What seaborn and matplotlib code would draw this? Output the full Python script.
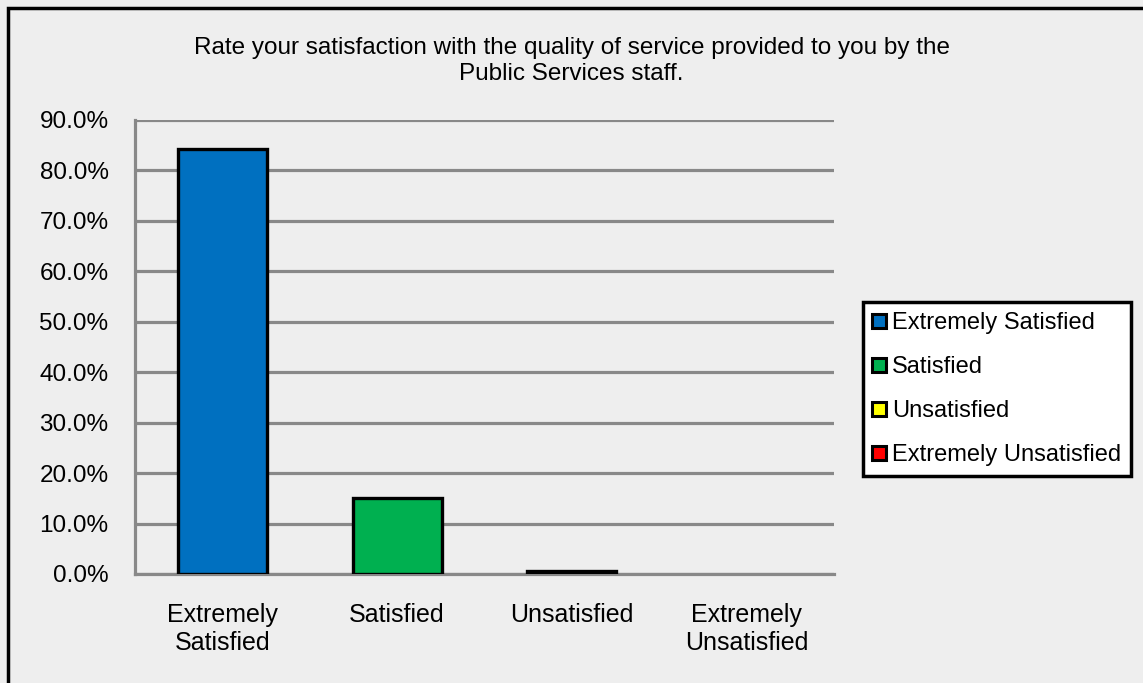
import numpy as np
import pandas as pd
import matplotlib
matplotlib.use("Agg")
import matplotlib.pyplot as plt
from matplotlib.lines import Line2D
from matplotlib.patches import Rectangle
from matplotlib.ticker import FuncFormatter, MultipleLocator
import seaborn as sns

# data
categories = ["Extremely Satisfied", "Satisfied", "Unsatisfied", "Extremely Unsatisfied"]
tick_labels = ["Extremely\nSatisfied", "Satisfied", "Unsatisfied", "Extremely\nUnsatisfied"]
percent = [84.3, 15.0, 0.6, 0.0]
colors = ["#0070C0", "#00B050", "#FFFF00", "#FF0000"]
title = "Rate your satisfaction with the quality of service provided to you by the\nPublic Services staff."

sns.set_style("white")
plt.rcParams["font.family"] = ["Liberation Sans", "DejaVu Sans"]
plt.rcParams["text.color"] = "black"
plt.rcParams["xtick.color"] = "black"
plt.rcParams["ytick.color"] = "black"

bg = "#EEEEEE"
grid_col = "#888888"

df = pd.DataFrame({"category": categories, "percent": percent})

fig = plt.figure(figsize=(11.43, 6.83), dpi=100, facecolor=bg)
ax = fig.add_axes([135 / 1143, 1 - 574 / 683, 699 / 1143, 454 / 683])
ax.set_facecolor(bg)

sns.barplot(data=df, x="category", y="percent", hue="category", order=categories,
            hue_order=categories, palette=colors, saturation=1, width=0.51,
            edgecolor="black", linewidth=2.4, legend=False, ax=ax, zorder=3)

# an empty category gets no visible mark
for bar in ax.patches:
    if bar.get_height() == 0:
        bar.set_linewidth(0)

ax.set_xlim(-0.5, 3.5)
ax.set_ylim(0, 90)
ax.yaxis.set_major_locator(MultipleLocator(10))
ax.yaxis.set_major_formatter(FuncFormatter(lambda v, p: f"{v:.1f}%"))
ax.grid(axis="y", color=grid_col, linewidth=2.3, zorder=0)
ax.set_axisbelow(True)

for s in ["top", "right"]:
    ax.spines[s].set_visible(False)
for s in ["left", "bottom"]:
    ax.spines[s].set_color(grid_col)
    ax.spines[s].set_linewidth(2.3)

ax.set_xticks(range(len(categories)))
ax.set_xticklabels(tick_labels, fontsize=18, linespacing=1.2)
ax.set_xticks(np.arange(-0.5, 4, 1), minor=True)
ax.tick_params(axis="x", which="major", length=0, pad=21)
ax.tick_params(axis="x", which="minor", length=5, width=2.3, color=grid_col)
ax.tick_params(axis="y", length=6, width=2.3, color=grid_col, labelsize=17.5, pad=13)
ax.set_xlabel("")
ax.set_ylabel("")

fig.text(0.5, 1 - 61 / 683, title, ha="center", va="center", fontsize=17.5, linespacing=1.2)

handles = [Line2D([0], [0], marker="s", linestyle="none", markersize=10,
                  markerfacecolor=c, markeredgecolor="black", markeredgewidth=2.2)
           for c in colors]
leg = fig.legend(handles, categories, loc="upper left",
                 bbox_to_anchor=(863 / 1143, 1 - 302 / 683),
                 fontsize=17, frameon=True, fancybox=False, framealpha=1,
                 facecolor="white", edgecolor="black", handlelength=0.55,
                 handletextpad=0.25, labelspacing=0.93, borderpad=0.42,
                 borderaxespad=0)
leg.get_frame().set_linewidth(2.5)

# outer chart border, clipped on the right and bottom like the reference
fig.patches.append(Rectangle((8 / 1143, -0.05), 1.1, 1 - 8 / 683 + 0.05,
                             transform=fig.transFigure, fill=False,
                             edgecolor="black", linewidth=2.5))

fig.savefig("out.png", dpi=100, facecolor=bg)
